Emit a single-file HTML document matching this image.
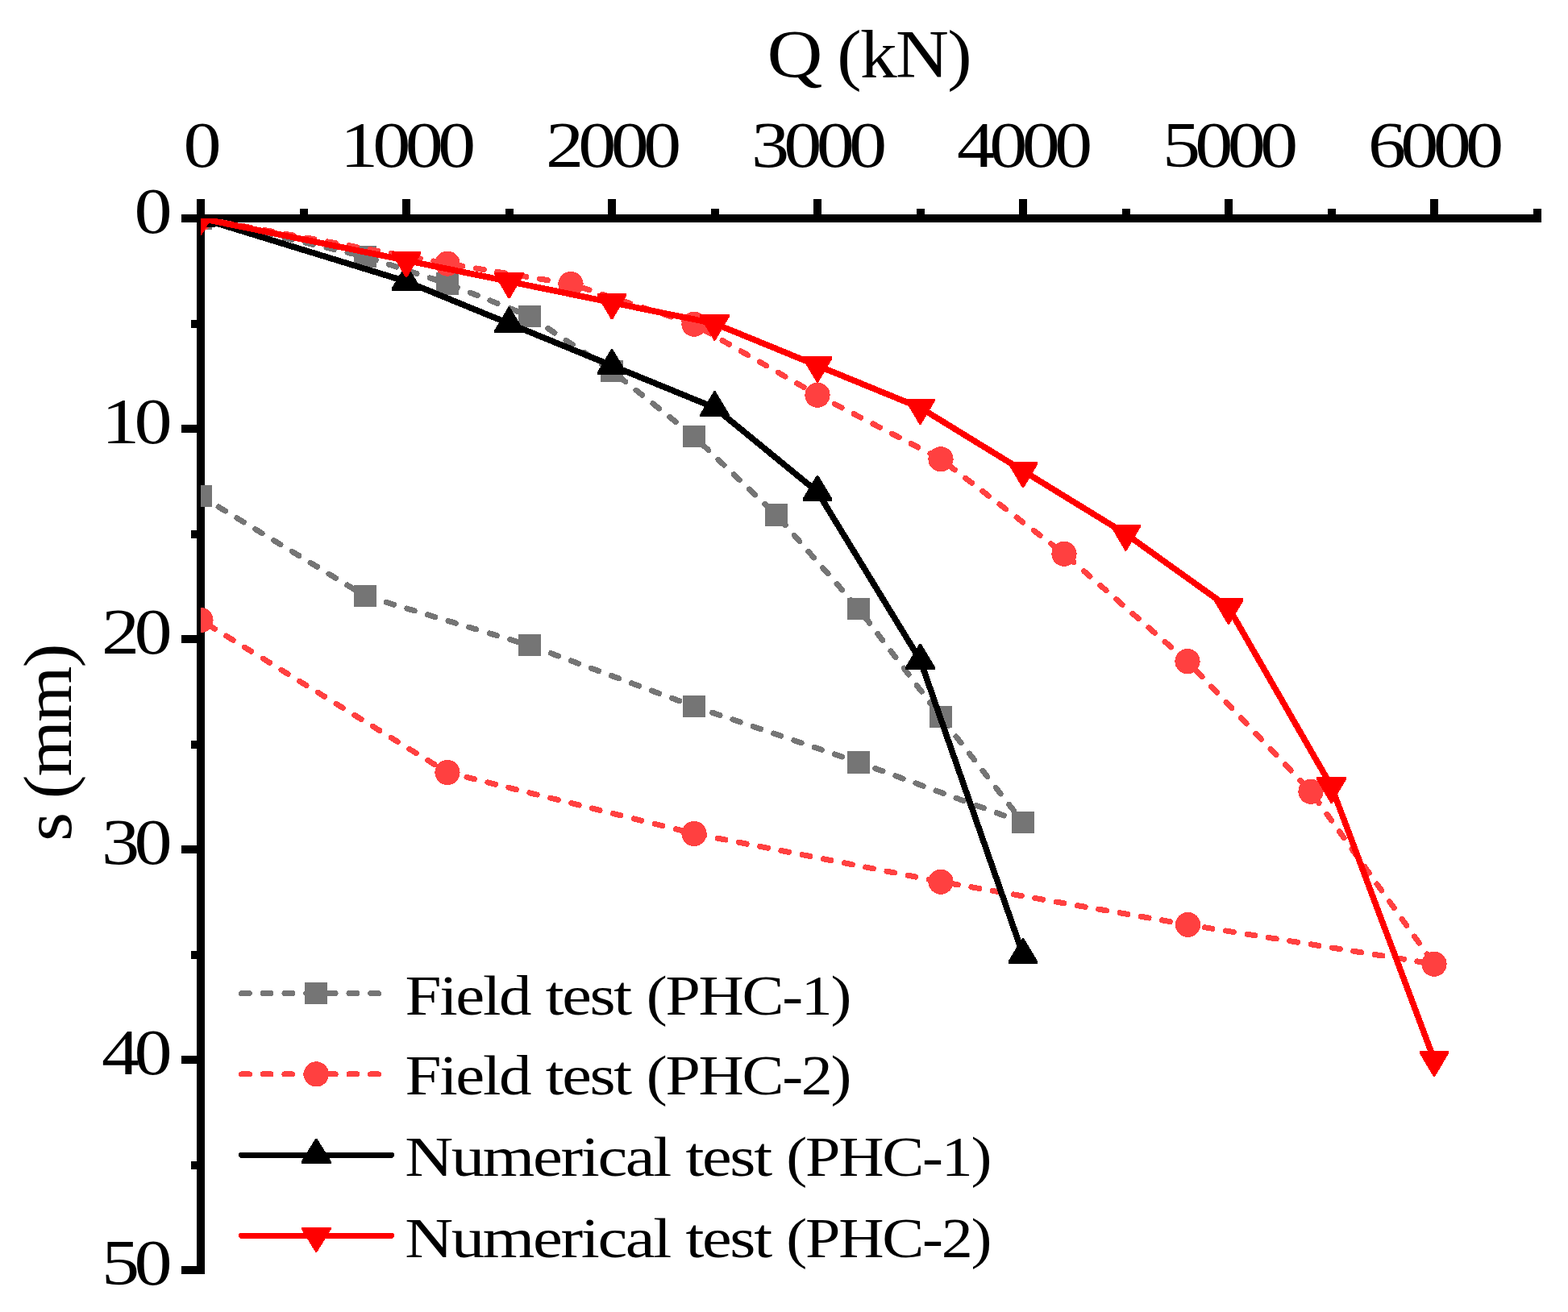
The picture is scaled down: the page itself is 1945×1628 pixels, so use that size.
<!DOCTYPE html>
<html lang="en">
<head>
<meta charset="utf-8">
<title>Q-s curves: field test and numerical test of PHC piles</title>
<style>
html,body{margin:0;padding:0;background:#fff;}
body{width:1945px;height:1628px;overflow:hidden;}
svg{display:block;}
text{font-family:"Liberation Serif","DejaVu Serif",serif;fill:#000;}
</style>
</head>
<body>
<svg width="1945" height="1628" viewBox="0 0 1945 1628">
<rect x="0" y="0" width="1945" height="1628" fill="#ffffff"/>

<g fill="#000" shape-rendering="crispEdges">
<rect x="225" y="266" width="1687" height="10"/>
<rect x="244" y="247" width="10" height="1334"/>
<rect x="372" y="259" width="10" height="12"/>
<rect x="499" y="247" width="10" height="24"/>
<rect x="627" y="259" width="10" height="12"/>
<rect x="754" y="247" width="10" height="24"/>
<rect x="882" y="259" width="10" height="12"/>
<rect x="1009" y="247" width="10" height="24"/>
<rect x="1137" y="259" width="10" height="12"/>
<rect x="1264" y="247" width="10" height="24"/>
<rect x="1392" y="259" width="10" height="12"/>
<rect x="1519" y="247" width="10" height="24"/>
<rect x="1647" y="259" width="10" height="12"/>
<rect x="1774" y="247" width="10" height="24"/>
<rect x="1902" y="259" width="10" height="12"/>
<rect x="237" y="397" width="12" height="10"/>
<rect x="225" y="527" width="24" height="10"/>
<rect x="237" y="658" width="12" height="10"/>
<rect x="225" y="788" width="24" height="10"/>
<rect x="237" y="919" width="12" height="10"/>
<rect x="225" y="1049" width="24" height="10"/>
<rect x="237" y="1180" width="12" height="10"/>
<rect x="225" y="1310" width="24" height="10"/>
<rect x="237" y="1441" width="12" height="10"/>
<rect x="225" y="1571" width="24" height="10"/>
</g>
<g font-size="80.6" letter-spacing="-5.77">
<text transform="translate(227.5,206.8) scale(1.17,1)">0</text>
<text transform="translate(421.9,206.8) scale(1.17,1)">1000</text>
<text transform="translate(676.9,206.8) scale(1.17,1)">2000</text>
<text transform="translate(931.9,206.8) scale(1.17,1)">3000</text>
<text transform="translate(1186.9,206.8) scale(1.17,1)">4000</text>
<text transform="translate(1441.9,206.8) scale(1.17,1)">5000</text>
<text transform="translate(1696.9,206.8) scale(1.17,1)">6000</text>
<text transform="translate(166.4,288.9) scale(1.17,1)">0</text>
<text transform="translate(126,549.9) scale(1.17,1)">10</text>
<text transform="translate(126,810.9) scale(1.17,1)">20</text>
<text transform="translate(126,1071.9) scale(1.17,1)">30</text>
<text transform="translate(126,1332.9) scale(1.17,1)">40</text>
<text transform="translate(126,1593.9) scale(1.17,1)">50</text>
</g>
<text y="95.6" font-size="84" letter-spacing="-1.5"><tspan x="951.57" textLength="67.19" lengthAdjust="spacingAndGlyphs">Q</tspan> <tspan x="1038.35" textLength="165.76" lengthAdjust="spacingAndGlyphs">(kN)</tspan></text>
<g transform="translate(87.9,921.45) rotate(-90)"><text y="0" font-size="84" letter-spacing="-1.5"><tspan x="-122.64" textLength="34.5" lengthAdjust="spacingAndGlyphs">s</tspan> <tspan x="-69.88" textLength="191.19" lengthAdjust="spacingAndGlyphs">(mm)</tspan></text></g>
<defs><clipPath id="plotclip"><rect x="249" y="271" width="1700" height="1360"/></clipPath></defs>
<g clip-path="url(#plotclip)" shape-rendering="crispEdges">
<polyline points="249,271 453,318.5 555,351.91 657,392.37 759,460.23 861,541.66 963,639.01 1065,755.15 1167,889.57 1269,1020.59 1065,945.95 861,876.52 657,800.83 453,739.5 249,615.52" fill="none" stroke="#757575" stroke-width="7.0" stroke-linecap="round" stroke-linejoin="round" stroke-dasharray="9.8 16.9"/>
<rect x="235.1" y="257.4" width="27.8" height="27.2" fill="#757575"/>
<rect x="439.1" y="304.9" width="27.8" height="27.2" fill="#757575"/>
<rect x="541.1" y="338.31" width="27.8" height="27.2" fill="#757575"/>
<rect x="643.1" y="378.76" width="27.8" height="27.2" fill="#757575"/>
<rect x="745.1" y="446.62" width="27.8" height="27.2" fill="#757575"/>
<rect x="847.1" y="528.06" width="27.8" height="27.2" fill="#757575"/>
<rect x="949.1" y="625.41" width="27.8" height="27.2" fill="#757575"/>
<rect x="1051.1" y="741.55" width="27.8" height="27.2" fill="#757575"/>
<rect x="1153.1" y="875.97" width="27.8" height="27.2" fill="#757575"/>
<rect x="1255.1" y="1006.99" width="27.8" height="27.2" fill="#757575"/>
<rect x="1051.1" y="932.35" width="27.8" height="27.2" fill="#757575"/>
<rect x="847.1" y="862.92" width="27.8" height="27.2" fill="#757575"/>
<rect x="643.1" y="787.23" width="27.8" height="27.2" fill="#757575"/>
<rect x="439.1" y="725.89" width="27.8" height="27.2" fill="#757575"/>
<rect x="235.1" y="601.92" width="27.8" height="27.2" fill="#757575"/>
<polyline points="249,271 555,327.12 708,352.43 861,402.28 1014,490.24 1167,569.71 1320,687.3 1473,820.67 1626,982.23 1779,1196.25 1473.51,1147.44 1167,1094.19 861,1034.43 555,958.47 249,769.51" fill="none" stroke="#ff4040" stroke-width="7.0" stroke-linecap="round" stroke-linejoin="round" stroke-dasharray="9.8 16.9"/>
<circle cx="249" cy="271" r="15.6" fill="#ff4040"/>
<circle cx="555" cy="327.12" r="15.6" fill="#ff4040"/>
<circle cx="708" cy="352.43" r="15.6" fill="#ff4040"/>
<circle cx="861" cy="402.28" r="15.6" fill="#ff4040"/>
<circle cx="1014" cy="490.24" r="15.6" fill="#ff4040"/>
<circle cx="1167" cy="569.71" r="15.6" fill="#ff4040"/>
<circle cx="1320" cy="687.3" r="15.6" fill="#ff4040"/>
<circle cx="1473" cy="820.67" r="15.6" fill="#ff4040"/>
<circle cx="1626" cy="982.23" r="15.6" fill="#ff4040"/>
<circle cx="1779" cy="1196.25" r="15.6" fill="#ff4040"/>
<circle cx="1473.51" cy="1147.44" r="15.6" fill="#ff4040"/>
<circle cx="1167" cy="1094.19" r="15.6" fill="#ff4040"/>
<circle cx="861" cy="1034.43" r="15.6" fill="#ff4040"/>
<circle cx="555" cy="958.47" r="15.6" fill="#ff4040"/>
<circle cx="249" cy="769.51" r="15.6" fill="#ff4040"/>
<polyline points="249,271 504,349.3 631.5,401.5 759,453.7 886.5,505.9 1014,610.3 1141.5,819.1 1269,1184.5" fill="none" stroke="#000000" stroke-width="7.6" stroke-linecap="round" stroke-linejoin="round"/>
<polygon points="248,250.5 250,250.5 267.4,279.5 267.4,282.4 230.6,282.4 230.6,279.5" fill="#000000"/>
<polygon points="503,328.8 505,328.8 522.4,357.8 522.4,360.7 485.6,360.7 485.6,357.8" fill="#000000"/>
<polygon points="630.5,381 632.5,381 649.9,410 649.9,412.9 613.1,412.9 613.1,410" fill="#000000"/>
<polygon points="758,433.2 760,433.2 777.4,462.2 777.4,465.1 740.6,465.1 740.6,462.2" fill="#000000"/>
<polygon points="885.5,485.4 887.5,485.4 904.9,514.4 904.9,517.3 868.1,517.3 868.1,514.4" fill="#000000"/>
<polygon points="1013,589.8 1015,589.8 1032.4,618.8 1032.4,621.7 995.6,621.7 995.6,618.8" fill="#000000"/>
<polygon points="1140.5,798.6 1142.5,798.6 1159.9,827.6 1159.9,830.5 1123.1,830.5 1123.1,827.6" fill="#000000"/>
<polygon points="1268,1164 1270,1164 1287.4,1193 1287.4,1195.9 1250.6,1195.9 1250.6,1193" fill="#000000"/>
<polyline points="249,271 504,323.2 631.5,349.3 759,375.4 886.5,401.5 1014,453.7 1141.5,505.9 1269,584.2 1396.5,662.5 1524,753.85 1651.5,975.7 1779,1315" fill="none" stroke="#ff0000" stroke-width="7.6" stroke-linecap="round" stroke-linejoin="round"/>
<polygon points="248,292 250,292 267.4,262.5 267.4,259.6 230.6,259.6 230.6,262.5" fill="#ff0000"/>
<polygon points="503,344.2 505,344.2 522.4,314.7 522.4,311.8 485.6,311.8 485.6,314.7" fill="#ff0000"/>
<polygon points="630.5,370.3 632.5,370.3 649.9,340.8 649.9,337.9 613.1,337.9 613.1,340.8" fill="#ff0000"/>
<polygon points="758,396.4 760,396.4 777.4,366.9 777.4,364 740.6,364 740.6,366.9" fill="#ff0000"/>
<polygon points="885.5,422.5 887.5,422.5 904.9,393 904.9,390.1 868.1,390.1 868.1,393" fill="#ff0000"/>
<polygon points="1013,474.7 1015,474.7 1032.4,445.2 1032.4,442.3 995.6,442.3 995.6,445.2" fill="#ff0000"/>
<polygon points="1140.5,526.9 1142.5,526.9 1159.9,497.4 1159.9,494.5 1123.1,494.5 1123.1,497.4" fill="#ff0000"/>
<polygon points="1268,605.2 1270,605.2 1287.4,575.7 1287.4,572.8 1250.6,572.8 1250.6,575.7" fill="#ff0000"/>
<polygon points="1395.5,683.5 1397.5,683.5 1414.9,654 1414.9,651.1 1378.1,651.1 1378.1,654" fill="#ff0000"/>
<polygon points="1523,774.85 1525,774.85 1542.4,745.35 1542.4,742.45 1505.6,742.45 1505.6,745.35" fill="#ff0000"/>
<polygon points="1650.5,996.7 1652.5,996.7 1669.9,967.2 1669.9,964.3 1633.1,964.3 1633.1,967.2" fill="#ff0000"/>
<polygon points="1778,1336 1780,1336 1797.4,1306.5 1797.4,1303.6 1760.6,1303.6 1760.6,1306.5" fill="#ff0000"/>
</g>
<g shape-rendering="crispEdges">
<line x1="299.5" y1="1232.5" x2="485.5" y2="1232.5" stroke="#757575" stroke-width="7" stroke-linecap="round" stroke-dasharray="9.8 16.9"/>
<rect x="378.4" y="1218.9" width="27.8" height="27.2" fill="#757575"/>
<text y="1258.6" font-size="70" letter-spacing="-2"><tspan x="502.49" textLength="154.8" lengthAdjust="spacingAndGlyphs">Field</tspan> <tspan x="676.69" textLength="105.17" lengthAdjust="spacingAndGlyphs">test</tspan> <tspan x="801.86" textLength="252.29" lengthAdjust="spacingAndGlyphs">(PHC-1)</tspan></text>
<line x1="299.5" y1="1332.9" x2="485.5" y2="1332.9" stroke="#ff4040" stroke-width="7" stroke-linecap="round" stroke-dasharray="9.8 16.9"/>
<circle cx="392.3" cy="1332.9" r="15.6" fill="#ff4040"/>
<text y="1358.4" font-size="70" letter-spacing="-2"><tspan x="502.49" textLength="154.8" lengthAdjust="spacingAndGlyphs">Field</tspan> <tspan x="676.69" textLength="105.17" lengthAdjust="spacingAndGlyphs">test</tspan> <tspan x="801.86" textLength="252.29" lengthAdjust="spacingAndGlyphs">(PHC-2)</tspan></text>
<line x1="299.5" y1="1433.3" x2="485.5" y2="1433.3" stroke="#000000" stroke-width="7" stroke-linecap="round"/>
<polygon points="391.3,1412.8 393.3,1412.8 410.7,1441 410.7,1443.9 373.9,1443.9 373.9,1441" fill="#000000"/>
<text y="1458.6" font-size="70" letter-spacing="-2"><tspan x="502.21" textLength="328.79" lengthAdjust="spacingAndGlyphs">Numerical</tspan> <tspan x="850.44" textLength="105.33" lengthAdjust="spacingAndGlyphs">test</tspan> <tspan x="975.3" textLength="253.03" lengthAdjust="spacingAndGlyphs">(PHC-1)</tspan></text>
<line x1="299.5" y1="1533.2" x2="485.5" y2="1533.2" stroke="#ff0000" stroke-width="7" stroke-linecap="round"/>
<polygon points="391.3,1553.7 393.3,1553.7 410.7,1525.5 410.7,1522.6 373.9,1522.6 373.9,1525.5" fill="#ff0000"/>
<text y="1559.5" font-size="70" letter-spacing="-2"><tspan x="502.21" textLength="328.79" lengthAdjust="spacingAndGlyphs">Numerical</tspan> <tspan x="850.44" textLength="105.33" lengthAdjust="spacingAndGlyphs">test</tspan> <tspan x="975.3" textLength="253.03" lengthAdjust="spacingAndGlyphs">(PHC-2)</tspan></text>
</g>
</svg>
</body>
</html>
